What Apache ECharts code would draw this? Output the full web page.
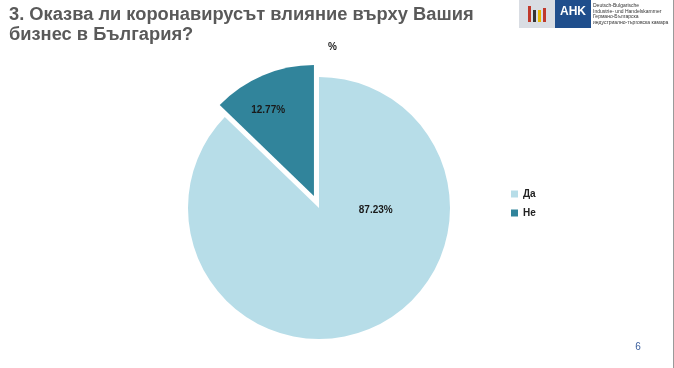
<!DOCTYPE html>
<html>
<head>
<meta charset="utf-8">
<script src="https://cdn.jsdelivr.net/npm/echarts@6/dist/echarts.min.js"></script>
<style>
html,body{margin:0;padding:0;background:#fff;}
#c{width:674px;height:368px;}
</style>
</head>
<body>
<div id="c"></div>
<script>
const titleLines = ["3. Оказва ли коронавирусът влияние върху Вашия", "бизнес в България?"];
const categories = ["Да", "Не"];
const values = [87.23, 12.77];
const colors = ["#b7dde8", "#31849b"];
const unitLabel = "%";
const pageNumber = "6";
const logoLines = ["Deutsch-Bulgarische", "Industrie- und Handelskammer", "Германо-Българска", "индустриално-търговска камара"];

const labelOffsets = [[30, -61], [-19, -23]];

const chart = echarts.init(document.getElementById('c'), null, {renderer: 'canvas'});
const option = {
  animation: false,
  backgroundColor: '#ffffff',
  title: {
    text: titleLines.join('\n'),
    left: 4, top: 0,
    textStyle: {fontFamily: 'Liberation Sans, Arial, sans-serif', fontWeight: 'bold', fontSize: 18.3, color: '#595959', lineHeight: 20}
  },
  legend: {
    orient: 'vertical', left: 506, top: 184,
    icon: 'rect', itemWidth: 7, itemHeight: 7, itemGap: 9,
    selectedMode: false,
    data: categories,
    textStyle: {fontFamily: 'Liberation Sans, Arial, sans-serif', fontSize: 10, color: '#222', fontWeight: 'bold'}
  },
  graphic: [
    {type: 'text', left: 328, top: 42, style: {text: unitLabel, font: 'bold 10px Liberation Sans, Arial, sans-serif', fill: '#222'}},
    {type: 'rect', shape: {x: 519, y: 0, width: 36, height: 28}, style: {fill: '#d9dde3'}},
    {type: 'rect', shape: {x: 555, y: 0, width: 36, height: 28}, style: {fill: '#1f4e8c'}},
    {type: 'text', x: 573, y: 12, style: {text: 'AHK', font: 'bold 12px Liberation Sans, Arial, sans-serif', fill: '#fff', align: 'center', verticalAlign: 'middle'}},
    {type: 'rect', shape: {x: 528, y: 6, width: 3, height: 16}, style: {fill: '#c0392b'}},
    {type: 'rect', shape: {x: 533, y: 10, width: 3, height: 12}, style: {fill: '#333'}},
    {type: 'rect', shape: {x: 538, y: 10, width: 3, height: 12}, style: {fill: '#e5b800'}},
    {type: 'rect', shape: {x: 543, y: 8, width: 3, height: 14}, style: {fill: '#c0392b'}},
    {type: 'text', x: 593, y: 3, style: {text: logoLines.join('\n'), font: '5px Liberation Sans, Arial, sans-serif', fill: '#333', lineHeight: 5.5}},
    {type: 'line', shape: {x1: 673.5, y1: 0, x2: 673.5, y2: 368}, style: {stroke: '#9a9a9a', lineWidth: 1}},
    {type: 'text', x: 638, y: 347, style: {text: pageNumber, font: '10px Liberation Sans, Arial, sans-serif', fill: '#3b5f9e', align: 'center', verticalAlign: 'middle'}}
  ],
  series: [{
    type: 'pie',
    center: [319, 208],
    radius: 131,
    startAngle: 90,
    clockwise: true,
    selectedMode: 'single',
    selectedOffset: 13,
    color: colors,
    label: {
      show: true, position: 'inside',
      formatter: p => p.value.toFixed(2) + '%',
      fontFamily: 'Liberation Sans, Arial, sans-serif', fontWeight: 'bold', fontSize: 10, color: '#1a1a1a'
    },
    labelLine: {show: false},
    emphasis: {disabled: true},
    data: categories.map((c, i) => ({
      name: c, value: values[i], selected: i === 1,
      label: {offset: labelOffsets[i]},
      select: {label: {offset: labelOffsets[i], color: '#1a1a1a'}, itemStyle: {color: colors[i]}}
    }))
  }]
};
chart.setOption(option);
</script>
</body>
</html>
